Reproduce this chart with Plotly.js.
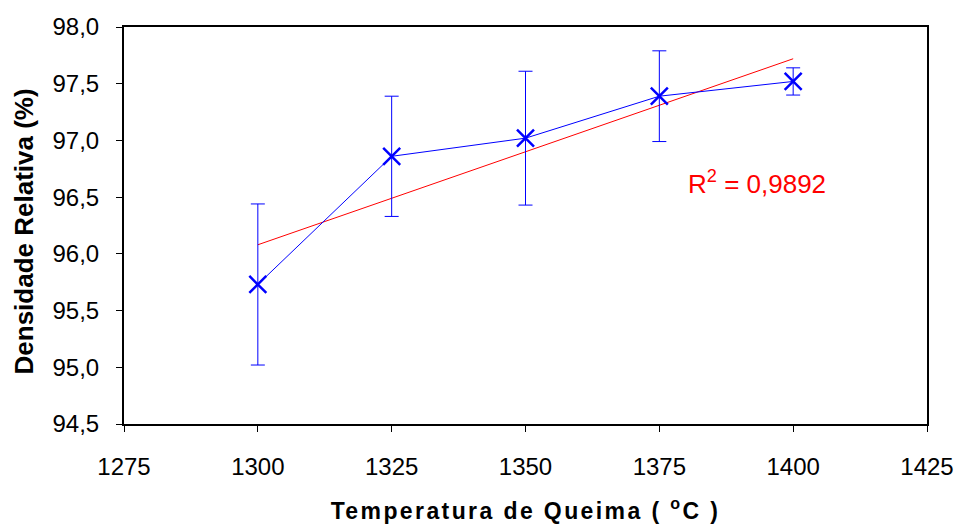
<!DOCTYPE html>
<html>
<head>
<meta charset="utf-8">
<script src="https://cdn.plot.ly/plotly-3.0.1.min.js"></script>
<style>
html, body { margin: 0; padding: 0; background: #fff; }
#chart { width: 959px; height: 529px; }
.xtitle { letter-spacing: 2.4px !important; }
</style>
</head>
<body>
<div id="chart"></div>
<script>
// Data
const temperatures = [1300, 1325, 1350, 1375, 1400];
const density = [95.73, 96.86, 97.02, 97.39, 97.52];
const densityError = [0.71, 0.53, 0.59, 0.40, 0.12];
const trendX = [1300, 1400];
const trendY = [96.08, 97.72];
const xTicks = [1275, 1300, 1325, 1350, 1375, 1400, 1425];
const yTicks = [94.5, 95.0, 95.5, 96.0, 96.5, 97.0, 97.5, 98.0];
const r2Label = 'R<sup>2</sup> = 0,9892';
const yTitle = 'Densidade Relativa (%)';
const xTitle = 'Temperatura de Queima ( <sup>o</sup>C )';

const FONT = 'Liberation Sans, Arial, sans-serif';

const traces = [
  {
    x: trendX, y: trendY, type: 'scatter', mode: 'lines',
    line: { color: '#FF0000', width: 1 }, hoverinfo: 'skip', showlegend: false
  },
  {
    x: temperatures, y: density, type: 'scatter', mode: 'lines+markers',
    line: { color: '#0000FF', width: 1 },
    marker: { symbol: 'x-thin', size: 17, color: '#0000FF', line: { color: '#0000FF', width: 2.5 } },
    error_y: { type: 'data', array: densityError, visible: true, color: '#0000FF', thickness: 1, width: 7 },
    showlegend: false
  }
];

const layout = {
  width: 959, height: 529,
  margin: { l: 124, r: 32, t: 27, b: 105 },
  paper_bgcolor: '#ffffff', plot_bgcolor: '#ffffff',
  font: { family: FONT, color: '#000000', size: 24 },
  showlegend: false,
  xaxis: {
    range: [1275, 1425], tickmode: 'array', tickvals: xTicks, ticktext: xTicks.map(String),
    showgrid: false, zeroline: false,
    showline: true, linecolor: '#000000', linewidth: 2, mirror: true,
    ticks: 'outside', ticklen: 6, tickwidth: 1, tickcolor: '#000000',
    ticklabelstandoff: 14,
    tickfont: { family: FONT, size: 24, color: '#000000' },
    title: { text: xTitle, font: { family: FONT, size: 23, color: '#000000', weight: 'bold' }, standoff: 24 },
    automargin: false
  },
  yaxis: {
    range: [94.5, 98.0], tickmode: 'array', tickvals: yTicks, ticktext: yTicks.map(v => v.toFixed(1).replace('.', ',')),
    showgrid: false, zeroline: false,
    showline: true, linecolor: '#000000', linewidth: 2, mirror: true,
    ticks: 'outside', ticklen: 6, tickwidth: 1, tickcolor: '#000000',
    ticklabelstandoff: 12,
    tickfont: { family: FONT, size: 24, color: '#000000' },
    automargin: false
  },
  annotations: [
    {
      x: 1393.3, y: 96.63, xref: 'x', yref: 'y', xanchor: 'center', yanchor: 'middle',
      text: r2Label, showarrow: false,
      font: { family: FONT, size: 26, color: '#FF0000' }
    },
    {
      x: -0.1245, y: 0.485, xref: 'paper', yref: 'paper', xanchor: 'center', yanchor: 'middle',
      text: yTitle, textangle: -90, showarrow: false,
      font: { family: FONT, size: 26, color: '#000000', weight: 'bold' }
    }
  ]
};

Plotly.newPlot('chart', traces, layout, { staticPlot: true, displayModeBar: false });
</script>
</body>
</html>
